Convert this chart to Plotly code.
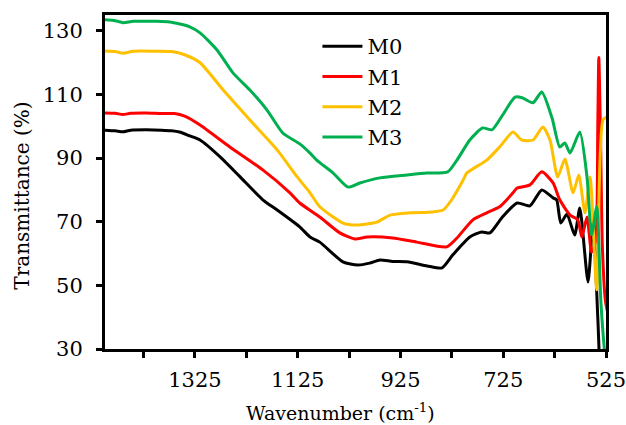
import plotly.graph_objects as go

# ---------------- data ----------------
series_names = ["M0", "M1", "M2", "M3"]
series_colors = ["#000000", "#FF0000", "#FFC000", "#00B050"]

wn_m0 = [1500, 1480, 1465, 1450, 1420, 1390, 1370, 1355, 1335, 1315, 1276, 1237, 1193,
         1165, 1121, 1101, 1082, 1037, 1008, 985, 965, 940, 912, 873, 844, 823, 790, 767,
         751, 728, 698, 673, 650, 628, 621, 613, 601, 586, 576, 560, 550, 541, 533, 522]
t_m0 = [98.8, 98.6, 98.3, 98.8, 98.9, 98.8, 98.6, 98.2, 97.0, 95.7, 90.4, 84.1, 76.9,
        73.7, 68.4, 65.2, 63.6, 57.4, 56.4, 57.0, 58.0, 57.5, 57.4, 56.1, 55.5, 59.6, 65.2, 66.8,
        66.5, 71.2, 75.9, 75.0, 80.0, 77.5, 76.9, 69.6, 72.4, 65.8, 74.3, 51.1, 70.0, 40.0, 15.0, 10.0]

wn_m1 = [1500, 1480, 1465, 1450, 1420, 1390, 1365, 1345, 1315, 1257, 1193, 1140, 1121,
         1082, 1043, 1014, 990, 940, 893, 835, 815, 784, 757, 732, 706, 698, 673, 650,
         628, 615, 595, 580, 572, 562, 553, 545, 541, 539, 536, 532, 526, 521]
t_m1 = [104.2, 104.1, 103.7, 104.1, 104.2, 104.0, 104.0, 103.2, 100.4, 93.5, 86.3, 79.1, 75.9,
        71.5, 66.5, 64.6, 65.2, 64.9, 63.6, 62.1, 64.9, 70.6, 72.8, 74.7, 79.1, 80.6, 81.6, 85.7,
        82.2, 76.9, 72.1, 70.6, 65.2, 71.5, 60.5, 64.0, 100.0, 121.6, 100.0, 62.0, 45.0, 41.0]

wn_m2 = [1500, 1480, 1465, 1445, 1400, 1370, 1345, 1315, 1270, 1218, 1165, 1126, 1101,
         1082, 1037, 1010, 971, 945, 907, 862, 842, 825, 803, 796, 757, 732, 706, 689,
         667, 648, 634, 619, 605, 589, 578, 566, 556, 543, 531, 522]
t_m2 = [123.7, 123.5, 123.0, 123.6, 123.6, 123.5, 122.5, 120.0, 111.4, 102.0, 92.6, 84.1, 79.1,
        74.7, 69.6, 69.0, 69.9, 72.1, 72.8, 73.1, 73.7, 77.0, 83.1, 85.3, 89.4, 93.5, 98.2, 95.7,
        95.7, 99.8, 95.7, 84.1, 89.7, 79.1, 84.7, 72.8, 84.1, 48.6, 102.0, 103.0]

wn_m3 = [1500, 1480, 1465, 1445, 1400, 1374, 1335, 1315, 1282, 1251, 1218, 1185, 1154,
         1121, 1101, 1088, 1056, 1027, 1004, 965, 912, 874, 833, 815, 790, 765, 747, 726,
         702, 687, 667, 650, 630, 615, 605, 595, 576, 562, 553, 543, 535, 527, 521]
t_m3 = [133.5, 133.2, 132.6, 133.0, 133.0, 132.8, 131.3, 129.4, 124.0, 116.8, 111.4, 105.2, 97.9,
        94.5, 91.6, 89.4, 85.3, 80.9, 82.2, 83.8, 84.7, 85.3, 85.7, 89.4, 95.7, 99.5, 98.9, 103.6,
        109.2, 108.9, 107.4, 110.8, 102.6, 93.5, 94.8, 91.6, 98.2, 84.1, 65.8, 74.7, 45.0, 28.0, 20.0]

x_tickvals = [1425, 1325, 1225, 1125, 1025, 925, 825, 725, 625, 525]
x_ticktext = ["", "1325", "", "1125", "", "925", "", "725", "", "525"]
y_tickvals = [30, 50, 70, 90, 110, 130]
y_ticktext = ["30", "50", "70", "90", "110", "130"]

x_title = "Wavenumber (cm<sup>-1</sup>)"
y_title = "Transmittance (%)"

# ---------------- figure ----------------
FONT = "DejaVu Serif"
xs = [wn_m0, wn_m1, wn_m2, wn_m3]
ys = [t_m0, t_m1, t_m2, t_m3]

fig = go.Figure()
for name, color, x, y in zip(series_names, series_colors, xs, ys):
    fig.add_trace(go.Scatter(x=x, y=y, name=name, mode="lines",
                             line=dict(color=color, width=3, shape="spline", smoothing=0.6)))

axis_common = dict(showgrid=False, zeroline=False, showline=True, linecolor="black",
                   linewidth=3, mirror=True, ticks="outside", ticklen=6, tickwidth=3,
                   tickcolor="black", automargin=False, ticklabeloverflow="allow",
                   tickfont=dict(family=FONT, size=21, color="black"))

fig.update_xaxes(range=[1500, 525], tickmode="array", tickvals=x_tickvals,
                 ticktext=x_ticktext, ticklabelstandoff=4, **axis_common)
fig.update_yaxes(range=[30, 135], tickmode="array", tickvals=y_tickvals,
                 ticktext=y_ticktext, ticklabelstandoff=9, **axis_common)

fig.update_layout(
    width=626, height=425,
    margin=dict(l=105, r=20, t=15, b=76, autoexpand=False),
    paper_bgcolor="white", plot_bgcolor="white",
    font=dict(family=FONT, color="black"),
    showlegend=True,
    legend=dict(x=0.424, y=0.967, xanchor="left", yanchor="top",
                bgcolor="rgba(0,0,0,0)", font=dict(family=FONT, size=21, color="black"),
                itemwidth=40, tracegroupgap=0),
    annotations=[
        dict(text=x_title, xref="paper", yref="paper", x=0.47, y=-0.19,
             xanchor="center", yanchor="middle", showarrow=False,
             font=dict(family=FONT, size=19, color="black")),
        dict(text=y_title, xref="paper", yref="paper", x=-0.165, y=0.46,
             xanchor="center", yanchor="middle", showarrow=False, textangle=-90,
             font=dict(family=FONT, size=20, color="black")),
    ],
)

fig.write_html("out.html")
